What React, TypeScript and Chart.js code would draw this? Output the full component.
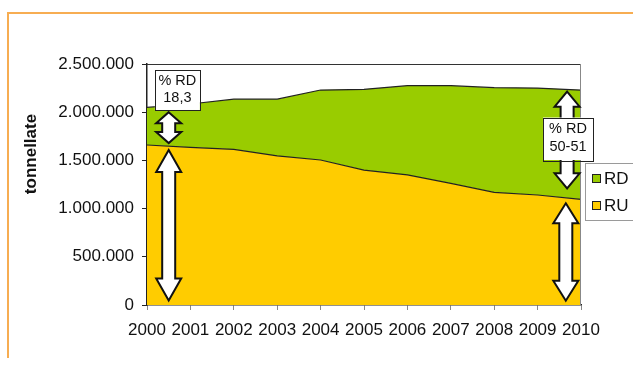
import React, { useEffect, useRef } from "react";
import { Chart, registerables } from "chart.js";

Chart.register(...registerables);

const YEARS = ["2000", "2001", "2002", "2003", "2004", "2005", "2006", "2007", "2008", "2009", "2010"];
const RU = [1660000, 1636000, 1615000, 1546000, 1504000, 1400000, 1349000, 1262000, 1169000, 1141000, 1096000];
const RD = [390000, 449000, 520000, 589000, 726000, 837000, 926000, 1013000, 1085000, 1109000, 1134000];
const Y_TICKS = [0, 500000, 1000000, 1500000, 2000000, 2500000];
const AXIS_TITLE = "tonnellate";

// annotations in data space (x = category index, y = tonnes)
const ARROWS = [
  { x: 0.5, from: 2000000, to: 1680000, head: 11 },
  { x: 0.5, from: 1608000, to: 47000, head: 22 },
  { x: 9.68, from: 2213000, to: 1210000, head: 15 },
  { x: 9.65, from: 1055000, to: 45000, head: 20 },
];
const BOXES = [
  { x: 0.7, top: 2438000, bottom: 2023000, w: 45, lines: ["% RD", "18,3"] },
  { x: 9.7, top: 1945000, bottom: 1504000, w: 50, lines: ["% RD", "50-51"] },
];

const FONT = "'Liberation Sans', Arial, sans-serif";
const GREEN = "#99CC00";
const YELLOW = "#FFCC00";

const fmt = (v: number) => String(v).replace(/\B(?=(\d{3})+(?!\d))/g, ".");

function drawArrow(ctx: CanvasRenderingContext2D, x: number, y1: number, y2: number, hl: number) {
  const hw = 25;
  const sw = 13;
  const t = Math.min(y1, y2);
  const b = Math.max(y1, y2);
  ctx.beginPath();
  ctx.moveTo(x, t);
  ctx.lineTo(x + hw / 2, t + hl);
  ctx.lineTo(x + sw / 2, t + hl);
  ctx.lineTo(x + sw / 2, b - hl);
  ctx.lineTo(x + hw / 2, b - hl);
  ctx.lineTo(x, b);
  ctx.lineTo(x - hw / 2, b - hl);
  ctx.lineTo(x - sw / 2, b - hl);
  ctx.lineTo(x - sw / 2, t + hl);
  ctx.lineTo(x - hw / 2, t + hl);
  ctx.closePath();
  ctx.fillStyle = "#ffffff";
  ctx.fill();
  ctx.lineWidth = 2;
  ctx.strokeStyle = "#111111";
  ctx.lineJoin = "miter";
  ctx.stroke();
}

const decorPlugin = {
  id: "decor",
  beforeDraw(chart: any) {
    const ctx = chart.ctx as CanvasRenderingContext2D;
    ctx.save();
    ctx.strokeStyle = "#F7AD52";
    ctx.lineWidth = 2;
    ctx.beginPath();
    ctx.moveTo(8, 358);
    ctx.lineTo(8, 13);
    ctx.lineTo(633, 13);
    ctx.stroke();
    ctx.restore();
  },
  afterDatasetsDraw(chart: any) {
    const ctx = chart.ctx as CanvasRenderingContext2D;
    const { left, right, top } = chart.chartArea;
    const xs = chart.scales.x;
    const ys = chart.scales.y;
    ctx.save();
    ctx.lineWidth = 1;
    ctx.strokeStyle = "#333333";
    ctx.beginPath();
    ctx.moveTo(left, top + 0.5);
    ctx.lineTo(right, top + 0.5);
    ctx.stroke();
    ctx.strokeStyle = "#888888";
    ctx.beginPath();
    ctx.moveTo(right - 0.5, top);
    ctx.lineTo(right - 0.5, chart.chartArea.bottom);
    ctx.stroke();

    ARROWS.forEach((a) => {
      drawArrow(ctx, xs.getPixelForValue(a.x), ys.getPixelForValue(a.from), ys.getPixelForValue(a.to), a.head);
    });
    BOXES.forEach((bx) => {
      const cx = xs.getPixelForValue(bx.x);
      const t = ys.getPixelForValue(bx.top);
      const b = ys.getPixelForValue(bx.bottom);
      ctx.fillStyle = "#ffffff";
      ctx.fillRect(cx - bx.w / 2, t, bx.w, b - t);
      ctx.strokeStyle = "#222222";
      ctx.lineWidth = 1;
      ctx.strokeRect(Math.round(cx - bx.w / 2) + 0.5, Math.round(t) + 0.5, bx.w, Math.round(b - t));
      ctx.fillStyle = "#111111";
      ctx.font = `14.5px ${FONT}`;
      ctx.textAlign = "center";
      ctx.textBaseline = "middle";
      const h = b - t;
      bx.lines.forEach((ln, i) => {
        ctx.fillText(ln, cx, t + h * (i === 0 ? 0.28 : 0.7));
      });
    });
    ctx.restore();
  },
  afterDraw(chart: any) {
    const ctx = chart.ctx as CanvasRenderingContext2D;
    ctx.save();
    ctx.translate(31, 154);
    ctx.rotate(-Math.PI / 2);
    ctx.font = `bold 17px ${FONT}`;
    ctx.fillStyle = "#111111";
    ctx.textAlign = "center";
    ctx.textBaseline = "middle";
    ctx.fillText(AXIS_TITLE, 0, 0);
    ctx.restore();

    ctx.save();
    ctx.fillStyle = "#ffffff";
    ctx.fillRect(585, 163, 60, 57);
    ctx.strokeStyle = "#9a9a9a";
    ctx.lineWidth = 1;
    ctx.strokeRect(585.5, 163.5, 60, 57);
    const items = [
      { label: chart.data.datasets[1].label, color: GREEN, y: 178 },
      { label: chart.data.datasets[0].label, color: YELLOW, y: 205 },
    ];
    items.forEach((it) => {
      ctx.fillStyle = it.color;
      ctx.fillRect(592, it.y - 4, 8, 8);
      ctx.strokeStyle = "#222222";
      ctx.strokeRect(592.5, it.y - 3.5, 8, 8);
      ctx.fillStyle = "#111111";
      ctx.font = `17px ${FONT}`;
      ctx.textAlign = "left";
      ctx.textBaseline = "middle";
      ctx.fillText(it.label, 604, it.y + 1);
    });
    ctx.restore();
  },
};

export default function App() {
  const ref = useRef<HTMLCanvasElement | null>(null);
  useEffect(() => {
    document.body.style.margin = "0";
    if (!ref.current) return;
    const chart = new Chart(ref.current, {
      type: "line",
      data: {
        labels: YEARS,
        datasets: [
          {
            label: "RU",
            data: RU,
            fill: "origin",
            backgroundColor: YELLOW,
            borderColor: "#222222",
            borderWidth: 1.2,
            pointRadius: 0,
            tension: 0,
          },
          {
            label: "RD",
            data: RD,
            fill: "-1",
            backgroundColor: GREEN,
            borderColor: "#222222",
            borderWidth: 1.2,
            pointRadius: 0,
            tension: 0,
          },
        ],
      },
      options: {
        responsive: false,
        animation: false,
        layout: { padding: { top: 64, right: 52, left: 0, bottom: 0 } },
        plugins: { legend: { display: false }, tooltip: { enabled: false } },
        scales: {
          x: {
            type: "category",
            offset: false,
            grid: { drawOnChartArea: false, drawTicks: true, tickLength: 5, color: "#888888" },
            border: { display: true, color: "#222222", width: 1.5 },
            ticks: { color: "#111111", font: { family: FONT, size: 17 }, padding: 10, maxRotation: 0, autoSkip: false },
            afterFit: (s: any) => {
              s.height = 60;
            },
          },
          y: {
            stacked: true,
            min: 0,
            max: 2500000,
            afterBuildTicks: (s: any) => {
              s.ticks = Y_TICKS.map((v) => ({ value: v }));
            },
            grid: { drawOnChartArea: false, drawTicks: true, tickLength: 5, color: "#222222" },
            border: { display: true, color: "#222222", width: 1.5 },
            ticks: {
              color: "#111111",
              font: { family: FONT, size: 17 },
              padding: 8,
              callback: (v: any) => fmt(Number(v)),
            },
            afterFit: (s: any) => {
              s.width = 147;
            },
          },
        },
      },
      plugins: [decorPlugin],
    } as any);
    return () => chart.destroy();
  }, []);
  return (
    <div style={{ width: 633, height: 365, background: "#ffffff" }}>
      <canvas ref={ref} width={633} height={365} style={{ display: "block", width: 633, height: 365 }} />
    </div>
  );
}
